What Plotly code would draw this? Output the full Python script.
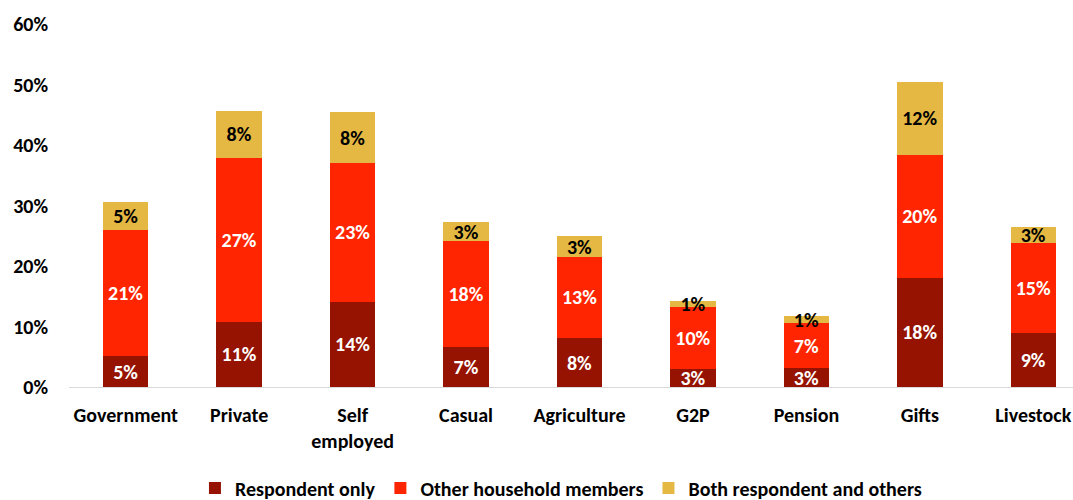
import plotly.graph_objects as go

# Income source categories and share of households (%) by who earns it
categories = ["Government", "Private", "Self<br>employed", "Casual", "Agriculture",
              "G2P", "Pension", "Gifts", "Livestock"]
respondent_only = [5.1, 10.8, 14.1, 6.6, 8.1, 2.9, 3.1, 18.1, 8.9]
other_members = [20.8, 27.1, 22.9, 17.6, 13.4, 10.3, 7.4, 20.3, 14.9]
both = [4.6, 7.8, 8.4, 3.0, 3.4, 1.0, 1.2, 12.0, 2.6]

y_ticks = [0, 10, 20, 30, 40, 50, 60]

FONT = "Calibri, Carlito, Lato, sans-serif"
LABEL_SIZE = 20

series = [
    ("Respondent only", respondent_only, "#951300", "white"),
    ("Other household members", other_members, "#FF2500", "white"),
    ("Both respondent and others", both, "#E4B843", "black"),
]

fig = go.Figure()
for name, vals, color, txt in series:
    fig.add_trace(go.Bar(
        x=categories,
        y=vals,
        name=name,
        marker=dict(color=color, line=dict(width=0)),
        width=0.4,
        texttemplate="%{y:.0f}%",
        textposition="inside",
        insidetextanchor="middle",
        textangle=0,
        textfont=dict(family=FONT, size=LABEL_SIZE, color=txt, weight="bold"),
        cliponaxis=False,
    ))

fig.update_layout(
    barmode="stack",
    width=1073,
    height=500,
    margin=dict(l=69, r=0, t=24, b=113, autoexpand=False),
    plot_bgcolor="white",
    paper_bgcolor="white",
    font=dict(family=FONT, size=LABEL_SIZE, color="black"),
    uniformtext=dict(minsize=LABEL_SIZE, mode="show"),
    showlegend=True,
    legend=dict(
        orientation="h",
        x=0.49,
        xanchor="center",
        y=-0.278,
        yanchor="middle",
        font=dict(family=FONT, size=LABEL_SIZE, color="black", weight="bold"),
        traceorder="normal",
        itemwidth=30,
    ),
    xaxis=dict(
        range=[-0.5, 8.35],
        showline=True,
        linecolor="#d9d9d9",
        linewidth=1,
        showgrid=False,
        ticks="",
        ticklabelstandoff=10,
        tickfont=dict(family=FONT, size=LABEL_SIZE, color="black", weight="bold"),
    ),
    yaxis=dict(
        range=[0, 60],
        tickvals=y_ticks,
        ticktext=[f"{v}%" for v in y_ticks],
        showgrid=False,
        showline=False,
        zeroline=False,
        ticks="",
        ticklabelstandoff=20,
        tickfont=dict(family=FONT, size=LABEL_SIZE, color="black", weight="bold"),
    ),
)

fig.write_html("out.html")
